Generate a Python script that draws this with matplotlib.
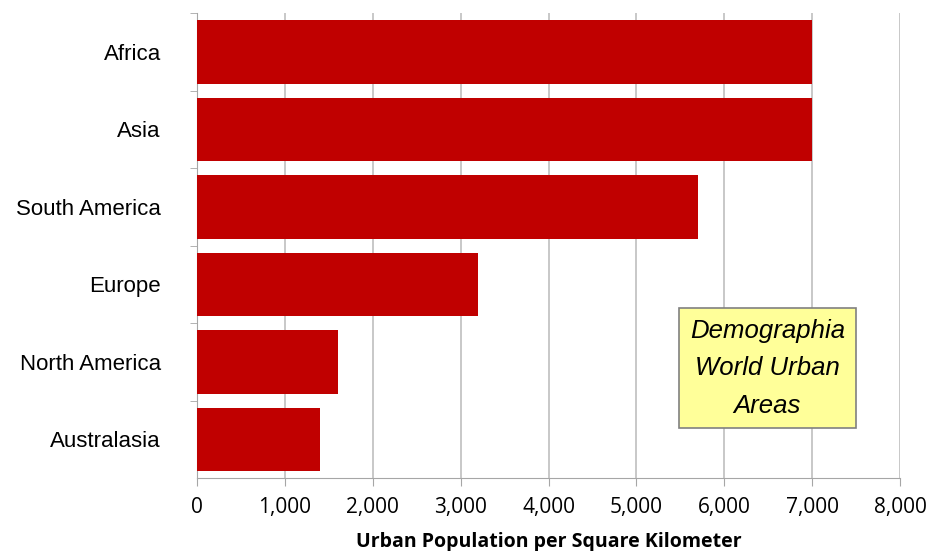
import matplotlib
matplotlib.use("Agg")
import matplotlib.pyplot as plt
from matplotlib.ticker import FuncFormatter

regions = ["Africa", "Asia", "South America", "Europe", "North America", "Australasia"]
density = [7000, 7000, 5700, 3200, 1600, 1400]
xticks = [0, 1000, 2000, 3000, 4000, 5000, 6000, 7000, 8000]

fig = plt.figure(figsize=(9.29, 5.51), dpi=100)
ax = fig.add_axes([0.212, 0.1325, 0.757, 0.8435])

ypos = list(range(len(regions)))[::-1]
ax.barh(ypos, density, height=0.82, color="#C00000", zorder=3)
ax.set_ylim(-0.5, len(regions) - 0.5)
ax.set_xlim(0, 8000)
ax.set_xticks(xticks)
ax.xaxis.set_major_formatter(FuncFormatter(lambda v, p: f"{int(v):,}"))
ax.set_yticks(ypos)
ax.set_yticklabels(regions, fontfamily="Liberation Sans", fontsize=16)
ax.set_yticks([y + 0.5 for y in ypos], minor=True)
ax.tick_params(axis="y", which="major", length=0, pad=26)
ax.tick_params(axis="y", which="minor", length=5, color="#A6A6A6", direction="out")
ax.tick_params(axis="x", length=6, color="#A6A6A6", pad=8, labelsize=15)
for lab in ax.get_xticklabels():
    lab.set_fontfamily("Open Sans")
ax.grid(axis="x", color="#BFBFBF", linewidth=1.2, zorder=0)
for s in ["top", "right"]:
    ax.spines[s].set_visible(False)
ax.spines["left"].set_color("#A6A6A6")
ax.spines["bottom"].set_color("#A6A6A6")
ax.set_xlabel("Urban Population per Square Kilometer", fontfamily="Open Sans",
              fontweight="bold", fontsize=14, labelpad=10)

ax.text(0.811, 0.236, "Demographia\nWorld Urban\nAreas", transform=ax.transAxes,
        ha="center", va="center", fontsize=18.5, style="italic",
        fontfamily="Liberation Sans", linespacing=1.7, zorder=5,
        bbox=dict(boxstyle="square,pad=0.42", facecolor="#FFFF99",
                  edgecolor="#808080", linewidth=1.2))

fig.savefig("out.png", dpi=100)
